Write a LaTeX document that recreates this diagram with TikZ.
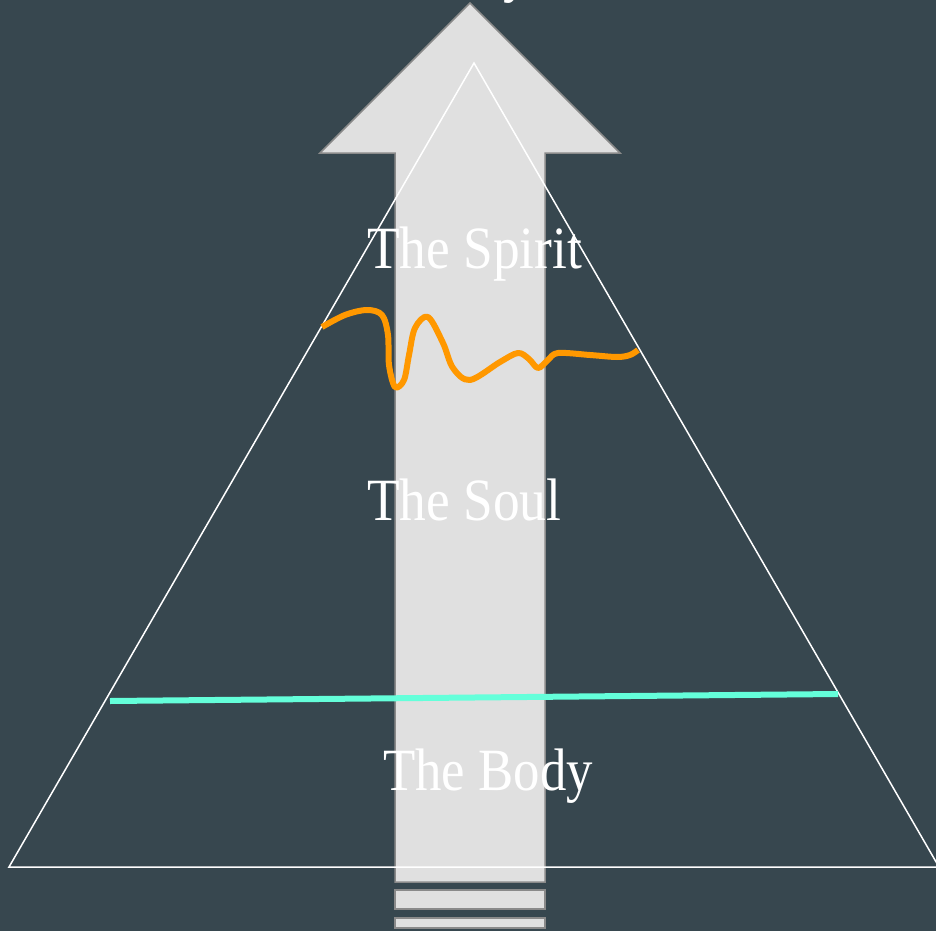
\documentclass[tikz,border=0pt]{standalone}
\usepackage{fontspec}
\setmainfont{Liberation Serif}
\definecolor{bgc}{RGB}{55,71,79}
\definecolor{arrowfill}{RGB}{224,224,224}
\definecolor{arrowedge}{RGB}{138,138,138}
\definecolor{tealline}{RGB}{100,255,218}
\definecolor{orangeline}{RGB}{255,152,0}
\tikzset{
  label text/.style={text=white, inner sep=0pt, anchor=base west, font=\fontsize{60}{60}\selectfont},
  arrowpart/.style={fill=arrowfill, draw=arrowedge, line width=1.5pt},
}
\begin{document}
\begin{tikzpicture}[x=1pt,y=-1pt]
\fill[bgc] (0,0) rectangle (936,931);
\useasboundingbox (0,0) rectangle (936,931);
\begin{scope}
\clip (0,0) rectangle (936,931);
% cut-off text at the very top
\node[label text] (toptext) at (503,-9) {\scalebox{0.89}[1]{y}};
% big arrow
\draw[arrowpart] (470,3) -- (620,153) -- (545,153) -- (545,882) -- (395,882) -- (395,153) -- (320,153) -- cycle;
\draw[arrowpart] (395,890) rectangle (545,909);
\draw[arrowpart] (395,918) rectangle (545,928);
% triangle
\coordinate (apex) at (474,63);
\coordinate (bl) at (9,867);
\coordinate (br) at (939,867);
\draw[white, line width=1.5pt, line join=miter] (apex) -- (bl) -- (br) -- cycle;
% teal line
\coordinate (t1) at (110,701);
\coordinate (t2) at (838,694);
\draw[tealline, line width=6pt] (t1) -- (t2);
% orange wave
\draw[orangeline, line width=6pt, line join=round] plot[smooth, tension=0.55] coordinates {
 (322,327) (345,315) (367,310) (382,315) (388,335) (389,365) (395,387) (404,380) (409,355) (415,328) (428,317) (443,343) (453,368) (470,380) (500,362) (518,353) (529,359) (538,368) (548,360) (558,353) (590,355) (617,357) (630,355) (638,350)};
% labels
\node[label text] (spirit) at (367,268) {\scalebox{0.89}[1]{The Spirit}};
\node[label text] (soul) at (367,520) {\scalebox{0.89}[1]{The Soul}};
\node[label text] (body) at (383,790) {\scalebox{0.88}[1]{The Body}};
\end{scope}
\end{tikzpicture}
\end{document}
